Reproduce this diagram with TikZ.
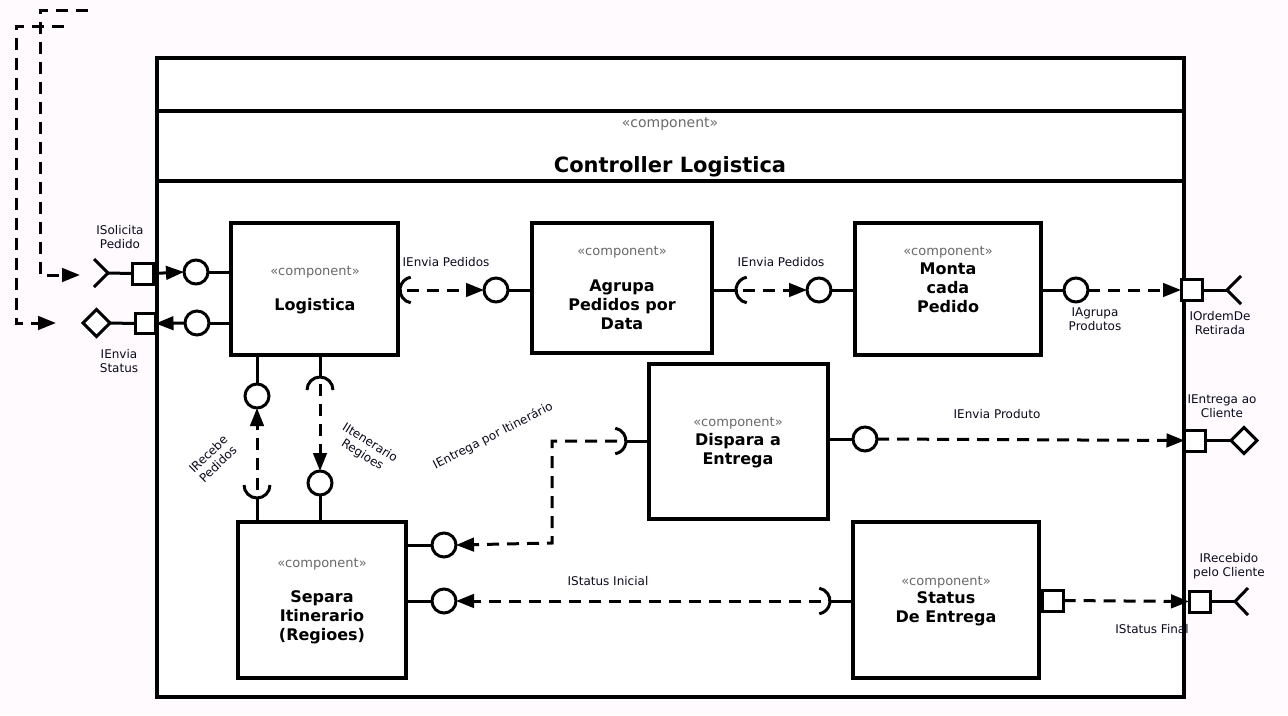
\documentclass[tikz,border=0pt]{standalone}
\usepackage{fontspec}
\setmainfont{DejaVu Sans}
\usetikzlibrary{arrows.meta}
\definecolor{bgpink}{RGB}{254,250,254}
\definecolor{stereo}{RGB}{105,105,105}
\definecolor{lbl}{RGB}{10,10,30}
\begin{document}
\begin{tikzpicture}[x=1pt,y=-1pt,
  comp/.style={draw, line width=3.2pt, fill=white, inner sep=0pt, outer sep=0pt},
  ifc/.style={circle, draw, line width=3pt, fill=white, minimum size=24pt, inner sep=0pt, outer sep=0pt},
  port/.style={rectangle, draw, line width=3pt, fill=white, minimum size=20pt, inner sep=0pt, outer sep=0pt},
  ln/.style={line width=3pt},
  dsh/.style={line width=3pt, dash pattern=on 12pt off 8pt},
  arr/.style={-{Triangle[length=18pt,width=13.5pt]}},
  st/.style={font=\fontsize{13}{15}\selectfont, text=stereo},
  nm/.style={font=\bfseries\fontsize{16}{19}\selectfont, align=center},
  lb/.style={font=\fontsize{12}{14}\selectfont, align=center, text=lbl},
]
\useasboundingbox (0,0) rectangle (1288,715);
\fill[bgpink] (0,0) rectangle (1288,715);

% container
\node[comp, minimum width=1027pt, minimum height=639pt] (ctr) at (670.5,377.5) {};
\draw[ln, line width=3.2pt] (157,111) -- (1184,111);
\draw[ln, line width=3.2pt] (157,181) -- (1184,181);
\node[st, font=\fontsize{14}{16}\selectfont] (ctrst) at (670,124) {«component»};
\node[font=\bfseries\fontsize{21}{24}\selectfont] (ctrnm) at (670,167) {Controller Logistica};

% components
\node[comp, minimum width=167pt, minimum height=132pt] (log) at (314.5,289) {};
\node[st] (logst) at (315,272) {«component»};
\node[nm] (lognm) at (315,306) {Logistica};

\node[comp, minimum width=180pt, minimum height=130pt] (agr) at (622,288) {};
\node[st] (agrst) at (622,252) {«component»};
\node[nm] (agrnm) at (622,305) {Agrupa\\Pedidos por\\Data};

\node[comp, minimum width=186pt, minimum height=132pt] (mon) at (948,289) {};
\node[st] (monst) at (948,252) {«component»};
\node[nm] (monnm) at (948,288) {Monta\\cada\\Pedido};

\node[comp, minimum width=179pt, minimum height=155pt] (dis) at (738.5,441.5) {};
\node[st] (disst) at (738,423) {«component»};
\node[nm] (disnm) at (738,451) {Dispara a\\Entrega};

\node[comp, minimum width=168pt, minimum height=156pt] (sep) at (322,600) {};
\node[st] (sepst) at (322,564) {«component»};
\node[nm] (sepnm) at (322,617) {Separa\\Itinerario\\(Regioes)};

\node[comp, minimum width=186pt, minimum height=156pt] (sta) at (946,600) {};
\node[st] (stast) at (946,582) {«component»};
\node[nm] (stanm) at (946,609) {Status\\De Entrega};

% ---- left ports
\node[port, minimum size=21pt] (sq1) at (142.5,273.5) {};
\node[ifc] (c1) at (196,272) {};
\draw[ln] (94,259) -- (108,273) -- (94,287);
\draw[ln] (108,273) -- (sq1.west);
\draw[ln, arr] (sq1.east) -- (c1.west);
\draw[ln] (c1.east) -- (c1 -| log.west);

\node[port] (sq2) at (145.5,323.5) {};
\draw[ln, fill=white] (83,323) -- (96.5,309.5) -- (110,323) -- (96.5,336.5) -- cycle;
\node[ifc] (c2) at (197,323) {};
\draw[ln] (110,323) -- (sq2.west);
\draw[ln, arr] (c2.west) -- (sq2.east);
\draw[ln] (c2.east) -- (c2 -| log.west);

\node[lb] (l1) at (120,237) {ISolicita\\Pedido};
\node[lb] (l2) at (119,361) {IEnvia\\Status};

% dashed entries from outside
\coordinate (a0) at (88,10);
\coordinate (a1) at (80,275);
\draw[dsh, arr] (a0) -- (40,10) -- (40,275) -- (a1);
\coordinate (b0) at (64,26);
\coordinate (b1) at (56,323);
\draw[dsh, arr] (b0) -- (16,26) -- (16,323) -- (b1);

% ---- Logistica -> Agrupa
\coordinate (s1) at (413,290);
\draw[ln] (s1) ++(100:13) arc[start angle=100, end angle=260, radius=13];
\node[ifc] (ca) at (496,290) {};
\draw[dsh, arr] (407,290) -- (ca.west);
\draw[ln] (ca.east) -- (ca -| agr.west);
\node[lb] (l3) at (446,262) {IEnvia Pedidos};

% ---- Agrupa -> Monta
\coordinate (s2) at (749,290);
\draw[ln] (agr.east |- s2) -- (736,290);
\draw[ln] (s2) ++(100:13) arc[start angle=100, end angle=260, radius=13];
\node[ifc] (cm) at (819,290) {};
\draw[dsh, arr] (743,290) -- (cm.west);
\draw[ln] (cm.east) -- (cm -| mon.west);
\node[lb] (l4) at (781,262) {IEnvia Pedidos};

% ---- Monta -> right port
\node[ifc] (cmo) at (1076,290) {};
\draw[ln] (cmo -| mon.east) -- (cmo.west);
\node[port, minimum size=21pt] (sqr1) at (1191.5,290) {};
\draw[dsh, arr] (cmo.east) -- (sqr1.west);
\draw[ln] (sqr1.east) -- (1227,290);
\draw[ln] (1241,276) -- (1227,290) -- (1241,304);
\node[lb] (l5) at (1095,319) {IAgrupa\\Produtos};
\node[lb] (l6) at (1220,323) {IOrdemDe\\Retirada};

% ---- Dispara -> right port
\node[ifc] (cd) at (865,439) {};
\draw[ln] (cd -| dis.east) -- (cd.west);
\node[port, minimum size=21pt] (sqr2) at (1195,440.5) {};
\draw[dsh, arr] (cd.east) -- (sqr2.west);
\draw[ln] (sqr2.east) -- (1231,440.5);
\draw[ln, fill=white] (1231,440.5) -- (1244,427.5) -- (1257,440.5) -- (1244,453.5) -- cycle;
\node[lb] (l7) at (997,414) {IEnvia Produto};
\node[lb] (l8) at (1222,406) {IEntrega ao\\Cliente};

% ---- Dispara socket -> Separa
\coordinate (sd) at (613,441);
\draw[ln] (sd) ++(-80:13) arc[start angle=-80, end angle=80, radius=13];
\draw[ln] (626,441) -- (sd -| dis.west);
\node[ifc] (cs1) at (444,545) {};
\draw[ln] (cs1.west) -- (cs1 -| sep.east);
\coordinate (bend) at (552,543);
\draw[dsh, arr] (617,441) -| (bend) -- (cs1.east);
\node[lb, rotate=27] (l9) at (493,436) {IEntrega por Itinerário};

% ---- Status socket -> Separa
\coordinate (ss) at (817,601);
\draw[ln] (ss) ++(-80:13) arc[start angle=-80, end angle=80, radius=13];
\draw[ln] (830,601) -- (ss -| sta.west);
\node[ifc] (cs2) at (444,601) {};
\draw[ln] (cs2.west) -- (cs2 -| sep.east);
\draw[dsh, arr] (821,601) -- (cs2.east);
\node[lb] (l10) at (608,581) {IStatus Inicial};

% ---- Status -> right port
\node[port, minimum size=21pt] (sqs) at (1053,600.5) {};
\node[port, minimum size=21pt] (sqr3) at (1199.5,601.5) {};
\draw[dsh, arr] (sqs.east) -- (sqr3.west);
\draw[ln] (sqr3.east) -- (1235,601.5);
\draw[ln] (1248,588) -- (1235,601.5) -- (1248,615);
\node[lb] (l11) at (1152,629) {IStatus Final};
\node[lb] (l12) at (1229,566) {IRecebido\\pelo Cliente};

% ---- verticals Logistica <-> Separa
\node[ifc] (cv1) at (257,396) {};
\draw[ln] (cv1 |- log.south) -- (cv1.north);
\coordinate (su) at (257,485);
\draw[ln] (su) ++(0:13) arc[start angle=0, end angle=180, radius=13];
\draw[dsh, arr] (257,490) -- (cv1.south);
\draw[ln] (su) ++(0,13) -- (su |- sep.north);
\node[lb, rotate=44] (l13) at (213,459) {IRecebe\\Pedidos};

\coordinate (sn) at (320,390);
\draw[ln] (sn) ++(180:13) arc[start angle=180, end angle=360, radius=13];
\draw[ln] (sn |- log.south) -- (320,377);
\node[ifc] (cv2) at (320,483) {};
\draw[dsh, arr] (320,384) -- (cv2.north);
\draw[ln] (cv2.south) -- (cv2 |- sep.north);
\node[lb, rotate=-32] (l14) at (366,449) {IItenerario\\Regioes};
\end{tikzpicture}
\end{document}
